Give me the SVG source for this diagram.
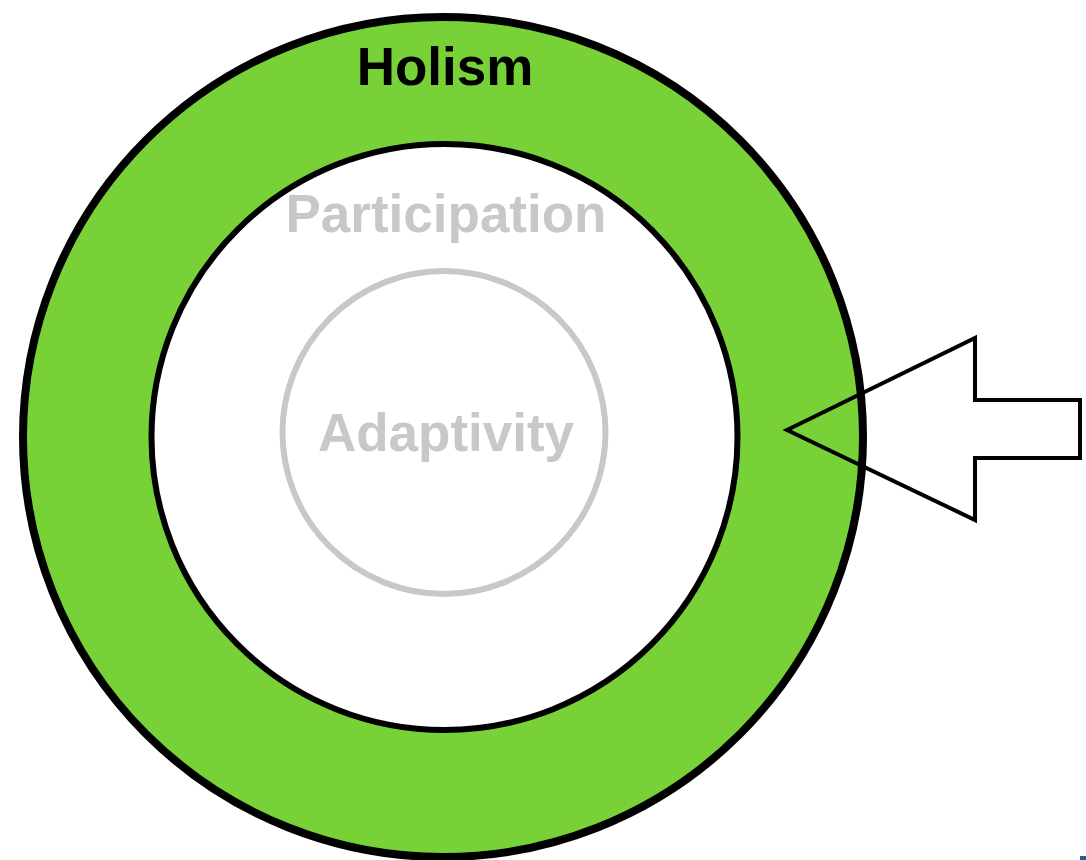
<svg xmlns="http://www.w3.org/2000/svg" width="1086" height="860" viewBox="0 0 1086 860">
  <style>
    .lbl { font-family: "Liberation Sans", Arial, sans-serif; font-weight: bold; font-size: 53px; text-anchor: middle; }
    .dark { fill: #000000; }
    .light { fill: #c8c8c8; }
  </style>
  <rect width="1086" height="860" fill="#ffffff"/>
  <g id="holism">
    <circle cx="443" cy="437" r="420" fill="#78d237" stroke="#000000" stroke-width="8"/>
    <text class="lbl dark" x="445" y="85">Holism</text>
  </g>
  <g id="participation">
    <circle cx="444.5" cy="437" r="293" fill="#ffffff" stroke="#000000" stroke-width="6"/>
    <text class="lbl light" x="446" y="232">Participation</text>
  </g>
  <g id="adaptivity">
    <circle cx="444" cy="432.5" r="161.5" fill="none" stroke="#c8c8c8" stroke-width="6"/>
    <text class="lbl light" x="446" y="451">Adaptivity</text>
  </g>
  <g id="connectors">
    <polygon points="787,430 975,338 975,400 1080,400 1080,458 975,458 975,520" fill="none" stroke="#000000" stroke-width="4" stroke-linejoin="miter"/>
  </g>
  <rect x="1080" y="856" width="6" height="4" fill="#2e5a8a"/>
</svg>
